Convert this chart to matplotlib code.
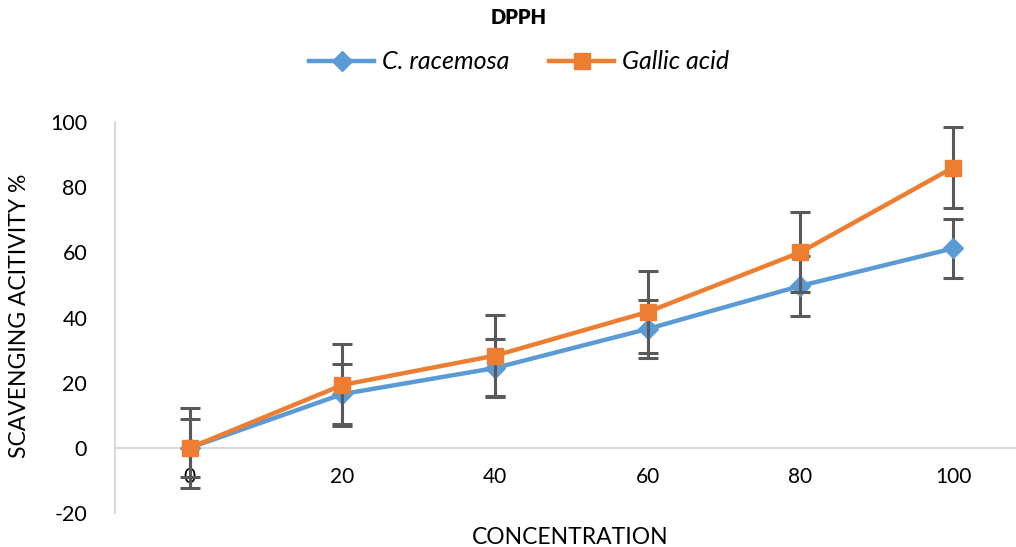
import matplotlib.pyplot as plt
from matplotlib.lines import Line2D

# Datos
concentracion = ['0', '20', '40', '60', '80', '100']
c_racemosa = [0.0, 16.5, 24.5, 36.5, 49.7, 61.2]
c_racemosa_err = [9.0, 9.3, 9.0, 9.0, 9.2, 9.1]
galico = [0.0, 19.3, 28.3, 41.7, 60.0, 86.0]
galico_err = [12.3, 12.5, 12.5, 12.5, 12.3, 12.5]

azul = '#5B9BD5'
naranja = '#ED7D31'
gris_err = '#595959'

plt.rcParams['font.family'] = ['Lato', 'DejaVu Sans']
plt.rcParams['axes.unicode_minus'] = False

fig = plt.figure(figsize=(10.16, 5.47), dpi=100)
ax = fig.add_axes([115 / 1016, 34 / 547, 1 - 115 / 1016, 391 / 547])

x = list(range(len(concentracion)))

# Serie C. racemosa
ax.errorbar(x, c_racemosa, yerr=c_racemosa_err, fmt='none', ecolor=gris_err,
            elinewidth=2.2, capsize=7, capthick=2.2, zorder=2)
ax.plot(x, c_racemosa, color=azul, lw=3.2, marker='D', markersize=10,
        label='C. racemosa', zorder=3)

# Serie ácido gálico
ax.errorbar(x, galico, yerr=galico_err, fmt='none', ecolor=gris_err,
            elinewidth=2.2, capsize=7, capthick=2.2, zorder=4)
ax.plot(x, galico, color=naranja, lw=3.2, marker='s', markersize=12,
        label='Gallic acid', zorder=5)

ax.set_xlim(-0.49, (1016 - 190) / 152.6)
ax.set_ylim(-20, 100)
ax.set_yticks(range(-20, 101, 20))
ax.set_xticks(x)
ax.set_xticklabels(concentracion)
ax.tick_params(axis='y', labelsize=15.5, length=0, pad=20)
ax.tick_params(axis='x', labelsize=15, length=0, pad=14)

for s in ['top', 'right']:
    ax.spines[s].set_visible(False)
ax.spines['left'].set_color('#d9d9d9')
ax.spines['left'].set_linewidth(1.5)
ax.spines['bottom'].set_position(('data', 0))
ax.spines['bottom'].set_color('#d9d9d9')
ax.spines['bottom'].set_linewidth(1.5)

fig.text(20 / 1016, 1 - 316 / 547, 'SCAVENGING ACITIVITY %', rotation=90,
         ha='center', va='center', fontsize=16.5)
fig.text(570 / 1016, 1 - 537 / 547, 'CONCENTRATION', ha='center', va='center',
         fontsize=16.5)
fig.text(519 / 1016, 1 - 18 / 547, 'DPPH', ha='center', va='center',
         fontsize=14.5, fontweight='heavy')

leyenda = [
    Line2D([0], [0], color=azul, lw=3.2, marker='D', markersize=10, label='C. racemosa'),
    Line2D([0], [0], color=naranja, lw=3.2, marker='s', markersize=12, label='Gallic acid'),
]
fig.legend(handles=leyenda, loc='center', bbox_to_anchor=(519 / 1016, 1 - 62 / 547),
           ncol=2, frameon=False, prop={'style': 'italic', 'size': 18},
           handlelength=2.6, columnspacing=1.6, handletextpad=0.3)

fig.savefig('out.png', dpi=100)
